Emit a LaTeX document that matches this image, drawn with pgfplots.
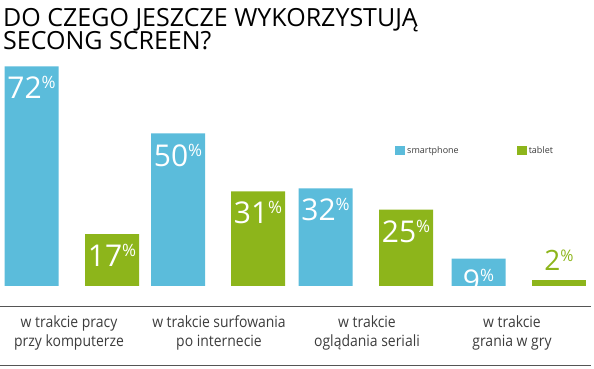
\documentclass[border=0pt]{standalone}
\usepackage{pgfplots}
\pgfplotsset{compat=1.18}
\usepackage{fontspec}
\setmainfont{Open Sans}
\newfontfamily\titlefont{Open Sans}
\newfontfamily\catfont[FakeStretch=0.9]{Open Sans}
\definecolor{sblue}{RGB}{91,188,219}
\definecolor{tgreen}{RGB}{141,181,27}
\definecolor{linegray}{RGB}{85,85,85}
\definecolor{txtgray}{RGB}{60,60,60}
\begin{document}
\begin{tikzpicture}
\begin{axis}[
  anchor=origin, at={(0pt,83pt)},
  x=1pt, y=3.05pt,
  xmin=0, xmax=594, ymin=-27.21, ymax=93.77,
  hide axis, clip=false,
  ybar, bar width=54pt, bar shift=0pt,
  /pgf/number format/assume math mode=true,
  legend columns=2,
  legend image code/.code={\fill[#1] (0pt,-4.5pt) rectangle (10pt,4.5pt);},
  legend style={draw=none, fill=none, anchor=west, at={(0.665,0.591)},
    inner sep=0pt, font=\fontsize{9}{10}\selectfont, text=txtgray,
    /tikz/every even column/.append style={column sep=56pt}},
]
\addplot[fill=sblue, draw=none,
  nodes near coords={\pgfmathprintnumber{\pgfplotspointmeta}\raisebox{10pt}{\fontsize{17}{17}\selectfont\%}},
  every node near coord/.style={font=\fontsize{30}{30}\selectfont, text=white, anchor=north, yshift=-10pt, inner sep=0pt}]
  coordinates {(31.5,72) (178,50) (325.5,32) (478.5,9)};
\addlegendentry{smartphone}
\addplot[fill=tgreen, draw=none,
  nodes near coords={\pgfmathprintnumber{\pgfplotspointmeta}\raisebox{10pt}{\fontsize{17}{17}\selectfont\%}},
  every node near coord/.style={font=\fontsize{30}{30}\selectfont, text=white, anchor=north, yshift=-10pt, inner sep=0pt}]
  coordinates {(112,17) (258,31) (406,25)};
\addlegendentry{tablet}
\addplot[fill=tgreen, draw=none, forget plot,
  nodes near coords={\pgfmathprintnumber{\pgfplotspointmeta}\raisebox{9pt}{\fontsize{16}{16}\selectfont\%}},
  every node near coord/.style={font=\fontsize{28}{28}\selectfont, text=tgreen, anchor=south, yshift=9pt, inner sep=0pt}]
  coordinates {(559,2)};
\end{axis}
% title
\node[anchor=base west, inner sep=0pt, font=\titlefont\fontsize{25}{25}\selectfont] at (3pt,342.5pt) {DO CZEGO JESZCZE WYKORZYSTUJĄ};
\node[anchor=base west, inner sep=0pt, font=\titlefont\fontsize{25}{25}\selectfont] at (3pt,319pt) {SECONG SCREEN?};
% rules
\draw[linegray, line width=0.8pt] (0pt,62.3pt) -- (591pt,62.3pt);
\draw[linegray, line width=0.8pt] (0pt,4pt) -- (591pt,4pt);
% category labels
\begin{scope}[every node/.style={anchor=base, inner sep=0pt, text=txtgray, font=\catfont\fontsize{15.5}{16}\selectfont}]
\node at (69pt,41pt) {w trakcie pracy};
\node at (69pt,22pt) {przy komputerze};
\node at (219pt,41pt) {w trakcie surfowania};
\node at (219pt,22pt) {po internecie};
\node at (367pt,41pt) {w trakcie};
\node at (367pt,22pt) {oglądania seriali};
\node at (512pt,41pt) {w trakcie};
\node at (512pt,22pt) {grania w gry};
\end{scope}
\pgfresetboundingbox
\useasboundingbox (0pt,0pt) rectangle (594pt,369pt);
\end{tikzpicture}
\end{document}
